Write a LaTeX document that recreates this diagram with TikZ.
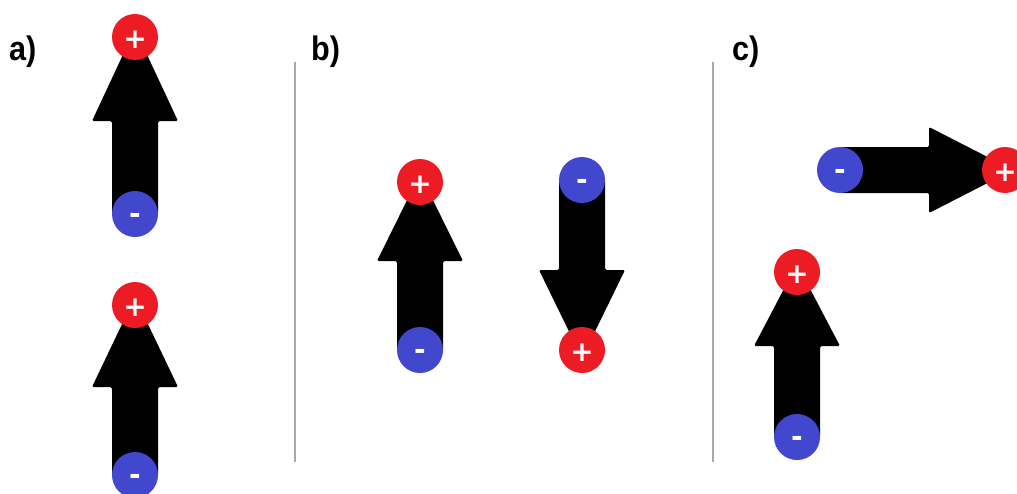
\documentclass[tikz,border=0pt]{standalone}
\usepackage{fontspec}
\usetikzlibrary{calc,backgrounds}
\newfontfamily\labfont{Liberation Sans}[BoldFont={* Bold}]
\newfontfamily\signfont{DejaVu Sans}[BoldFont={* Bold}]
\definecolor{pred}{HTML}{ED1C24}
\definecolor{nblue}{HTML}{4148CD}
\definecolor{sepgray}{HTML}{AAAAAA}
\tikzset{
  charge/.style={circle, minimum size=46pt, inner sep=0pt, text=white,
    font=\signfont\bfseries\fontsize{28}{28}\selectfont},
  poscharge/.style={charge, fill=pred, text height=22pt, text depth=0pt},
  negcharge/.style={charge, fill=nblue, text height=18pt, text depth=0pt},
  dipbody/.style={fill=black, rounded corners=1.5pt},
  seplabel/.style={anchor=base west, inner sep=0pt, xscale=0.9,
    font=\labfont\bfseries\fontsize{34}{34}\selectfont},
  sepline/.style={draw=sepgray, line width=1.6pt}
}
% #1 minus node, #2 plus node, #3 head length
\newcommand\dipolebody[3]{%
  \coordinate (T) at ($(#2.center)!-8pt!(#1.center)$);
  \coordinate (H) at ($(T)!#3!(#1.center)$);
  \fill[dipbody] ($(#1.center)!23pt!90:(#2.center)$) -- ($(H)!23pt!90:(T)$)
    -- ($(H)!43pt!90:(T)$) -- (T) -- ($(H)!43pt!-90:(T)$)
    -- ($(H)!23pt!-90:(T)$) -- ($(#1.center)!23pt!-90:(#2.center)$) -- cycle;
}
\begin{document}
\begin{tikzpicture}[x=1pt,y=-1pt]
\useasboundingbox (0,0) rectangle (1017,493);
% labels
\node[seplabel] (la) at (9,60) {a)};
\node[seplabel] (lb) at (311,60) {b)};
\node[seplabel] (lc) at (732,60) {c)};
% separators
\coordinate (s1t) at (295,62); \coordinate (s1b) at (295,462);
\coordinate (s2t) at (713,62); \coordinate (s2b) at (713,462);
\draw[sepline] (s1t) -- (s1b);
\draw[sepline] (s2t) -- (s2b);
% charges
\node[poscharge] (p1) at (135,37) {+};
\node[negcharge] (m1) at (135,214) {-};
\node[poscharge] (p2) at (135,305) {+};
\node[negcharge] (m2) at (135,475) {-};
\node[poscharge] (p3) at (420,182) {+};
\node[negcharge] (m3) at (420,350) {-};
\node[negcharge] (m4) at (582,180) {-};
\node[poscharge] (p4) at (582,350) {+};
\node[negcharge] (m5) at (840,170) {-};
\node[poscharge] (p5) at (1005,170) {+};
\node[poscharge] (p6) at (797,272) {+};
\node[negcharge] (m6) at (797,437) {-};
% arrow bodies
\begin{scope}[on background layer]
\dipolebody{m1}{p1}{92pt}
\dipolebody{m2}{p2}{90pt}
\dipolebody{m3}{p3}{87pt}
\dipolebody{m4}{p4}{88pt}
\dipolebody{m5}{p5}{84pt}
\dipolebody{m6}{p6}{82pt}
\end{scope}
\end{tikzpicture}
\end{document}
